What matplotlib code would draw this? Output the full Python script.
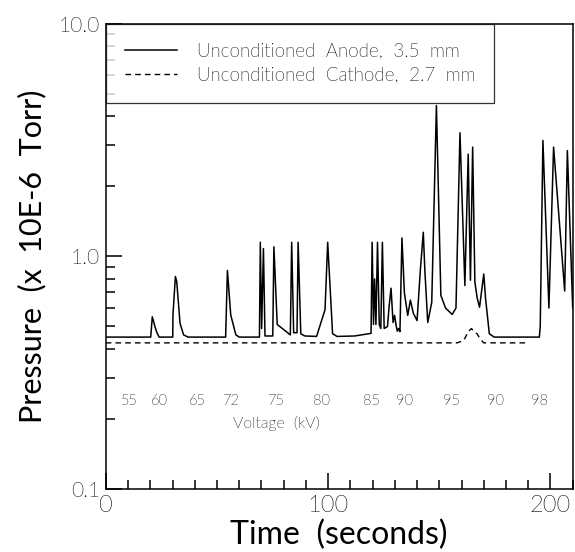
import matplotlib
matplotlib.use("Agg")
import matplotlib.pyplot as plt
import matplotlib.transforms as mtransforms
from matplotlib import font_manager
from matplotlib.ticker import FixedLocator, MultipleLocator, NullFormatter

# ── data ────────────────────────────────────────────────────
anode_t = [0, 20.2, 20.9, 22.1, 23.0, 24.0,
           30.1, 30.2, 31.3, 31.9, 33.4, 35.0, 37.0,
           53.9, 54.7, 56.2, 58.5, 60.0,
           69.1, 69.5, 70.1, 70.9, 71.6, 75.1, 75.6, 77.1, 83.0, 83.6, 84.5,
           86.0, 86.5, 87.7, 89.5, 94.8, 98.6, 99.8, 102.0, 104.0,
           112.0, 119.3, 119.8, 120.4, 120.9, 121.5, 122.2, 123.0, 123.7, 124.4,
           125.2, 126.0, 126.7, 127.4, 128.3, 129.2, 129.9, 130.5, 131.1, 131.7,
           132.3, 133.2, 134.3, 135.8, 137.0, 138.3, 140.0, 141.5, 142.8, 143.5,
           144.8, 146.6, 148.7, 150.7, 152.8, 155.8, 157.5, 159.3, 161.5, 163.0,
           164.0, 165.0, 166.0, 167.0, 168.1, 170.0, 170.8, 172.5, 174.7,
           195.0, 195.4, 196.6, 199.3, 201.4, 206.4, 207.6, 210.0]
anode_p = [0.45, 0.45, 0.55, 0.50, 0.47, 0.45,
           0.45, 0.56, 0.82, 0.78, 0.515, 0.46, 0.45,
           0.45, 0.87, 0.56, 0.46, 0.45,
           0.45, 1.15, 0.49, 1.08, 0.455, 0.455, 1.10, 0.51, 0.46, 1.15, 0.47,
           0.47, 1.15, 0.465, 0.455, 0.453, 0.59, 1.15, 0.465, 0.453,
           0.455, 0.467, 1.15, 0.51, 0.80, 0.51, 1.15, 0.51, 0.49, 1.15,
           0.49, 0.495, 0.50, 0.605, 0.73, 0.52, 0.558, 0.51, 0.477, 0.49,
           0.475, 1.20, 0.697, 0.558, 0.649, 0.57, 0.53, 0.88, 1.27, 0.87,
           0.52, 0.634, 4.45, 0.68, 0.60, 0.563, 0.60, 3.40, 0.75, 2.75,
           0.79, 2.95, 0.776, 0.665, 0.605, 0.84, 0.66, 0.465, 0.45,
           0.45, 0.50, 3.15, 0.60, 2.95, 0.71, 2.85, 0.60]

cathode_t = [0, 158.0, 161.0, 163.0, 164.5, 165.5, 167.0, 168.5, 170.0, 189.8]
cathode_p = [0.425, 0.425, 0.435, 0.475, 0.49, 0.475, 0.465, 0.44, 0.425, 0.425]

volt_labels = ["55", "60", "65", "72", "75", "80", "85", "90", "95", "90", "98"]
volt_pos = [10.7, 24.2, 41.2, 56.0, 76.5, 97.1, 119.3, 134.2, 155.6, 175.3, 195.1]


def pick_light_font():
    """找一个细体字体，找不到就用默认"""
    prefs = ["Lato", "Open Sans", "Roboto", "Inter", "DejaVu Sans", "Noto Sans"]
    for fam in prefs:
        for f in font_manager.fontManager.ttflist:
            w = f.weight
            if isinstance(w, str):
                w = font_manager.weight_dict.get(w, 400)
            if f.name == fam and f.style == "normal" and w <= 300:
                return fam, w
    return "DejaVu Sans", 400


fam, wt = pick_light_font()
plt.rcParams["font.family"] = [fam, "DejaVu Sans"]
plt.rcParams["font.weight"] = wt

fig = plt.figure(figsize=(5.75, 5.52), dpi=100)
ax = fig.add_axes([0.184, 0.114, 0.812, 0.843])

ax.plot(anode_t, anode_p, color="black", lw=1.1,
        label="Unconditioned  Anode,  3.5  mm")
ax.plot(cathode_t, cathode_p, color="black", lw=1.0, dashes=(4, 3),
        label="Unconditioned  Cathode,  2.7  mm")

ax.set_yscale("log")
ax.set_xlim(0, 210)
ax.set_ylim(0.1, 10)

ax.yaxis.set_major_locator(FixedLocator([0.1, 1.0, 10.0]))
ax.set_yticklabels(["0.1", "1.0", "10.0"], fontsize=15)
minors = [m * d for d in (0.1, 1.0) for m in range(2, 10)]
ax.yaxis.set_minor_locator(FixedLocator(minors))
ax.yaxis.set_minor_formatter(NullFormatter())

ax.xaxis.set_major_locator(FixedLocator([0, 100, 200]))
ax.set_xticklabels(["0", "100", "200"], fontsize=17)
ax.xaxis.set_minor_locator(MultipleLocator(10))

ax.tick_params(which="both", direction="in", top=False, right=False, width=1.1)
ax.tick_params(which="major", length=11.5, pad=4)
ax.tick_params(which="minor", length=6.3)
for sp in ax.spines.values():
    sp.set_linewidth(1.1)

ax.set_xlabel("Time  (seconds)", fontsize=23, labelpad=3)
ax.set_ylabel("Pressure  (x  10E-6  Torr)", fontsize=22, labelpad=9)

# voltage labels under the curves
trans = mtransforms.blended_transform_factory(ax.transData, ax.transAxes)
for v, x in zip(volt_labels, volt_pos):
    ax.text(x, 0.19, v, transform=trans, ha="center", va="center", fontsize=10.5)
ax.text(76.7, 0.14, "Voltage  (kV)", transform=trans, ha="center", va="center",
        fontsize=11.5)

leg = ax.legend(loc="upper left", bbox_to_anchor=(0, 1), borderaxespad=0,
                fontsize=13.5, frameon=True, fancybox=False, edgecolor="black",
                handlelength=2.8, handletextpad=1.07, borderpad=1.0,
                labelspacing=0.32)
leg.get_frame().set_linewidth(0.9)

fig.savefig("out.png", dpi=100, facecolor="white")
